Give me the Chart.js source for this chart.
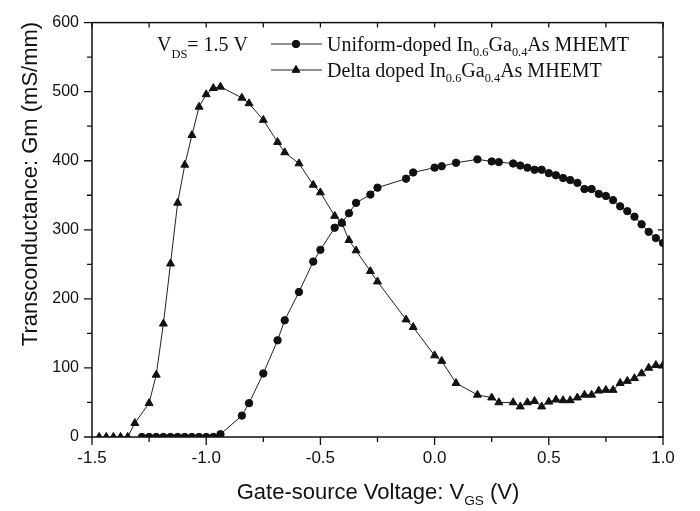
<!DOCTYPE html>
<html><head><meta charset="utf-8">
<script src="https://cdn.jsdelivr.net/npm/chart.js@4.4.1/dist/chart.umd.min.js"></script>
<style>html,body{margin:0;padding:0;background:#fff}#wrap{width:700px;height:511px;position:relative}</style>
</head><body><div id="wrap"><canvas id="c" width="700" height="511"></canvas></div>
<script>
// ---- data ----
const deltaV = [-1.46875,-1.4375,-1.40625,-1.375,-1.34375,-1.3125,-1.25,-1.21875,-1.1875,-1.15625,-1.125,-1.09375,-1.0625,-1.03125,-1.0,-0.96875,-0.9375,
  -0.84375,-0.8125,-0.75,-0.6875,-0.65625,-0.59375,-0.53125,-0.5,-0.4375,-0.40625,-0.375,-0.34375,-0.28125,-0.25,-0.125,-0.09375,
  0,0.03125,0.09375,0.1875,0.25,0.28125,0.34375,0.375,0.40625,0.4375,0.46875,0.5,0.53125,0.5625,0.59375,0.625,0.65625,0.6875,0.71875,0.75,0.78125,0.8125,0.84375,0.875,0.90625,0.9375,0.96875,1.0];
const deltaGm = [0,0,0,0,0,20,49,90,164,251,339,394,437,478,496,505,507,
  491,483,459,427,412,396,365,354,320,310,285,270,240,225,170,159,
  118,110,78,61,57,50,50,44,50,52,44,51,54,53,53,57,61,61,67,68,68,78,81,85,92,100,104,104];
const uniformV = [-1.28125,-1.25,-1.21875,-1.1875,-1.15625,-1.125,-1.09375,-1.0625,-1.03125,-1.0,-0.96875,-0.9375,
  -0.84375,-0.8125,-0.75,-0.6875,-0.65625,-0.59375,-0.53125,-0.5,-0.4375,-0.40625,-0.375,-0.34375,-0.28125,-0.25,-0.125,-0.09375,
  0,0.03125,0.09375,0.1875,0.25,0.28125,0.34375,0.375,0.40625,0.4375,0.46875,0.5,0.53125,0.5625,0.59375,0.625,0.65625,0.6875,0.71875,0.75,0.78125,0.8125,0.84375,0.875,0.90625,0.9375,0.96875,1.0];
const uniformGm = [0,0,0,0,0,0,0,0,0,0,0,4,
  31,49,92,140,169,210,254,271,303,310,324,339,351,361,374,383,
  390,392,397,402,399,398,396,393,390,387,387,382,379,375,372,368,359,359,352,349,343,334,327,319,308,297,288,281];
const xMajorTicks = [-1.5,-1.0,-0.5,0.0,0.5,1.0];
const xMinorTicks = [-1.25,-0.75,-0.25,0.25,0.75];
const yMajorTicks = [0,100,200,300,400,500,600];
const yMinorTicks = [50,150,250,350,450,550];
const uniformName = [{t:'Uniform-doped In'},{t:'0.6',sub:true},{t:'Ga'},{t:'0.4',sub:true},{t:'As MHEMT'}];
const deltaName = [{t:'Delta doped In'},{t:'0.6',sub:true},{t:'Ga'},{t:'0.4',sub:true},{t:'As MHEMT'}];
const vdsLabel = [{t:'V'},{t:'DS',sub:true},{t:'= 1.5 V'}];
const xTitle = [{t:'Gate-source Voltage: V'},{t:'GS',sub:true},{t:' (V)'}];
const yTitle = 'Transconductance: Gm (mS/mm)';

const SANS = '"Liberation Sans", Arial, sans-serif';
const SERIF = '"Liberation Serif", "Times New Roman", serif';
const INK = '#111';

function rich(ctx, parts, x, y, size, family, subRatio, subDrop){
  let cx = x;
  parts.forEach(p=>{
    const fs = p.sub ? size*subRatio : size;
    ctx.font = fs + 'px ' + family;
    ctx.fillText(p.t, cx, p.sub ? y + subDrop : y);
    cx += ctx.measureText(p.t).width;
  });
  return cx - x;
}
function richWidth(ctx, parts, size, family, subRatio){
  let w = 0;
  parts.forEach(p=>{ ctx.font = (p.sub ? size*subRatio : size) + 'px ' + family; w += ctx.measureText(p.t).width; });
  return w;
}

const decor = {
  id:'decor',
  afterDraw(chart){
    const {ctx, chartArea:a, scales:{x,y}} = chart;
    ctx.save();
    ctx.strokeStyle = INK; ctx.fillStyle = INK;
    ctx.lineWidth = 1.5;
    ctx.strokeRect(a.left, a.top, a.right-a.left, a.bottom-a.top);
    ctx.lineWidth = 1.3;
    ctx.beginPath();
    xMajorTicks.forEach(v=>{const p=x.getPixelForValue(v); ctx.moveTo(p,a.bottom); ctx.lineTo(p,a.bottom+8); ctx.moveTo(p,a.top); ctx.lineTo(p,a.top+5);});
    xMinorTicks.forEach(v=>{const p=x.getPixelForValue(v); ctx.moveTo(p,a.bottom); ctx.lineTo(p,a.bottom+5); ctx.moveTo(p,a.top); ctx.lineTo(p,a.top+5);});
    yMajorTicks.forEach(v=>{const p=y.getPixelForValue(v); ctx.moveTo(a.left,p); ctx.lineTo(a.left-8,p); ctx.moveTo(a.right,p); ctx.lineTo(a.right-5,p);});
    yMinorTicks.forEach(v=>{const p=y.getPixelForValue(v); ctx.moveTo(a.left,p); ctx.lineTo(a.left-5,p); ctx.moveTo(a.right,p); ctx.lineTo(a.right-5,p);});
    ctx.stroke();

    // legend
    const items = [
      {name:uniformName, yc:44, style:'circle', r:3.7},
      {name:deltaName, yc:70, style:'triangle', r:4.6}
    ];
    items.forEach(it=>{
      ctx.lineWidth = 1; ctx.strokeStyle = '#222'; ctx.fillStyle = INK;
      ctx.beginPath(); ctx.moveTo(271, it.yc); ctx.lineTo(322, it.yc); ctx.stroke();
      Chart.helpers.drawPoint(ctx, {pointStyle:it.style, radius:it.r, borderWidth:1}, 296, it.yc);
      ctx.fill();
      ctx.textBaseline = 'alphabetic'; ctx.textAlign = 'left';
      rich(ctx, it.name, 327, it.yc + 6.5, 20, SERIF, 0.62, 5.5);
    });
    // V_DS annotation
    rich(ctx, vdsLabel, 157, 51, 20, SERIF, 0.62, 6.5);

    // axis titles
    ctx.fillStyle = INK;
    const tw = richWidth(ctx, xTitle, 22, SANS, 0.62);
    rich(ctx, xTitle, 378 - tw/2, 499, 22, SANS, 0.62, 6);
    ctx.save();
    ctx.translate(37, 184); ctx.rotate(-Math.PI/2);
    ctx.font = '22px ' + SANS; ctx.textAlign = 'center';
    ctx.fillText(yTitle, 0, 0);
    ctx.restore();
    ctx.restore();
  }
};

const toPts = (xs, ys) => xs.map((v,i)=>({x:v, y:ys[i]}));

new Chart(document.getElementById('c'), {
  type:'line',
  data:{datasets:[
    {label:'Uniform-doped In0.6Ga0.4As MHEMT', data:toPts(uniformV, uniformGm), borderColor:'#222', borderWidth:1,
     pointStyle:'circle', pointRadius:3.7, pointBackgroundColor:INK, pointBorderColor:INK, pointBorderWidth:1, tension:0, clip:0},
    {label:'Delta doped In0.6Ga0.4As MHEMT', data:toPts(deltaV, deltaGm), borderColor:'#222', borderWidth:1,
     pointStyle:'triangle', pointRadius:4.6, pointBackgroundColor:INK, pointBorderColor:INK, pointBorderWidth:1, tension:0, clip:0}
  ]},
  options:{
    responsive:false, animation:false, devicePixelRatio:1,
    layout:{padding:{top:12, right:37, left:0, bottom:0}},
    plugins:{legend:{display:false}, tooltip:{enabled:false}},
    scales:{
      x:{type:'linear', min:-1.5, max:1.0,
         afterBuildTicks:s=>{s.ticks = xMajorTicks.map(v=>({value:v}));},
         afterFit:s=>{s.height = 74;},
         grid:{display:false, drawTicks:false}, border:{display:false},
         ticks:{color:INK, font:{family:SANS, size:17}, padding:11, maxRotation:0, autoSkip:false, callback:v=>Number(v).toFixed(1)}},
      y:{type:'linear', min:0, max:600,
         afterBuildTicks:s=>{s.ticks = yMajorTicks.map(v=>({value:v}));},
         afterFit:s=>{s.width = 92;},
         grid:{display:false, drawTicks:false}, border:{display:false},
         ticks:{color:INK, font:{family:SANS, size:16}, padding:13, autoSkip:false, callback:v=>String(v)}}
    }
  },
  plugins:[decor]
});
</script></body></html>
